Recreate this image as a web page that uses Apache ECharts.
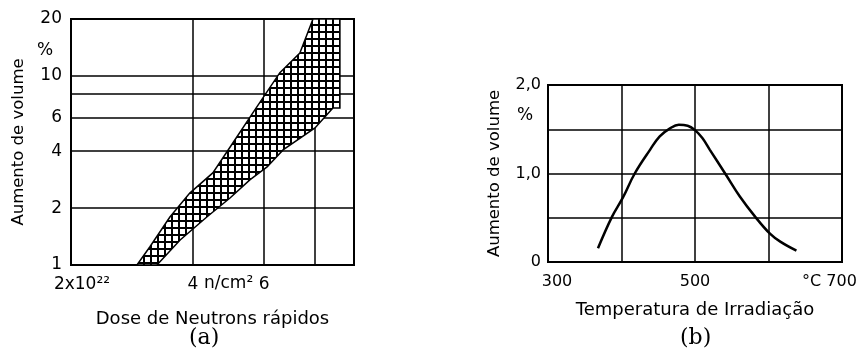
<!DOCTYPE html>
<html><head><meta charset="utf-8">
<script src="https://cdn.jsdelivr.net/npm/echarts@6/dist/echarts.min.js"></script>
<style>html,body{margin:0;padding:0;background:#fff}#c{width:864px;height:356px}</style>
</head><body><div id="c"></div>
<script>
// ---- Chart (a): volume increase vs fast neutron dose (log-log), hatched band ----
const doseTickValues = [2e22, 4e22, 6e22, 1e23];
const doseTickLabels = ['2x10²²', '4', '6', '1x10²³'];
const doseGridValues = [4e22, 6e22, 8e22];
const volTickValues = [1, 2, 4, 6, 10, 20];
const volTickLabels = ['1', '2', '4', '6', '10', '20'];
const volGridValues = [2, 4, 6, 8, 10];
// band edges (upper-left edge and lower-right edge)
const bandUpperDose = [2.91e22, 3.13e22, 3.51e22, 3.93e22, 4.48e22, 5.02e22, 5.69e22, 6.56e22, 7.35e22, 7.92e22];
const bandUpperVol  = [1, 1.245, 1.795, 2.40, 3.07, 4.42, 6.61, 10.4, 13.2, 20];
const bandLowerDose = [3.26e22, 3.72e22, 4.33e22, 4.94e22, 5.53e22, 6.10e22, 6.68e22, 8.01e22, 8.87e22, 9.23e22, 9.23e22];
const bandLowerVol  = [1, 1.356, 1.795, 2.26, 2.82, 3.30, 4.06, 5.31, 6.77, 6.77, 20];

// ---- Chart (b): volume increase vs irradiation temperature ----
const tempValues = [368, 387, 402, 418, 439, 452, 466, 478, 490, 500, 510, 520, 541, 561, 582, 602, 616, 638];
const volumeValues = [0.155, 0.51, 0.73, 1.0, 1.27, 1.42, 1.51, 1.55, 1.54, 1.49, 1.40, 1.27, 1.0, 0.74, 0.51, 0.32, 0.23, 0.128];
const tempTickLabels = {300: '300', 500: '500', 700: '°C 700'};
const volBTickLabels = {0: '0', 1: '1,0', 2: '2,0'};

const FONT = 'DejaVu Sans';

function makeHatch() {
  const c = document.createElement('canvas');
  c.width = 7; c.height = 7;
  const g = c.getContext('2d');
  g.fillStyle = '#fff'; g.fillRect(0, 0, 7, 7);
  g.fillStyle = '#000';
  g.fillRect(0, 3, 7, 2);
  g.fillRect(3, 0, 2, 7);
  return c;
}
const hatch = makeHatch();

function nearIdx(arr, v) {
  for (let i = 0; i < arr.length; i++) {
    if (Math.abs(arr[i] - v) / arr[i] < 1e-6) return i;
  }
  return -1;
}

const chart = echarts.init(document.getElementById('c'), null, {renderer: 'canvas'});
const axisLine = {show: true, lineStyle: {color: '#000', width: 2}};
const split = {show: true, lineStyle: {color: '#000', width: 1.5}};
const nameStyle = {color: '#000', fontFamily: FONT, fontSize: 18};
const yNameStyle = {color: '#000', fontFamily: FONT, fontSize: 16.5};

chart.setOption({
  animation: false,
  backgroundColor: '#fff',
  grid: [
    {left: 71, right: 510, top: 19, bottom: 91, show: true, borderColor: '#000', borderWidth: 2, backgroundColor: 'transparent'},
    {left: 548, right: 22, top: 85, bottom: 94, show: true, borderColor: '#000', borderWidth: 2, backgroundColor: 'transparent'}
  ],
  xAxis: [
    {
      gridIndex: 0, type: 'log', logBase: 10, min: 2e22, max: 1e23,
      axisLine: axisLine,
      axisTick: {show: false, customValues: doseGridValues},
      splitLine: split,
      axisLabel: {
        customValues: doseTickValues, margin: 11, color: '#000', fontFamily: FONT, fontSize: 17,
        formatter: function (v) {
          const i = nearIdx(doseTickValues, v);
          if (i < 0) return '';
          if (i === 0) return '{l|' + doseTickLabels[i] + '}';
          if (i === doseTickValues.length - 1) return '{r|' + doseTickLabels[i] + '}';
          return doseTickLabels[i];
        },
        rich: {
          l: {fontFamily: FONT, fontSize: 17, color: '#000', padding: [0, 0, 0, 22]},
          r: {fontFamily: FONT, fontSize: 17, color: '#000', padding: [0, 0, 0, 12]}
        }
      },
      name: 'Dose de Neutrons rápidos', nameLocation: 'middle', nameGap: 45, nameTextStyle: nameStyle
    },
    {
      gridIndex: 1, type: 'value', min: 300, max: 700, interval: 100,
      axisLine: axisLine, axisTick: {show: false}, splitLine: split,
      axisLabel: {
        margin: 12, color: '#000', fontFamily: FONT, fontSize: 16,
        formatter: function (v) {
          const s = tempTickLabels[Math.round(v)];
          if (!s) return '';
          if (v === 300) return '{l|' + s + '}';
          if (v === 700) return '{r|' + s + '}';
          return s;
        },
        rich: {
          l: {fontFamily: FONT, fontSize: 16, color: '#000', padding: [0, 0, 0, 18]},
          r: {fontFamily: FONT, fontSize: 16, color: '#000', padding: [0, 25, 0, 0]}
        }
      },
      name: 'Temperatura de Irradiação', nameLocation: 'middle', nameGap: 39, nameTextStyle: nameStyle
    }
  ],
  yAxis: [
    {
      gridIndex: 0, type: 'log', logBase: 10, min: 1, max: 20,
      axisLine: axisLine,
      axisTick: {show: false, customValues: volGridValues},
      splitLine: split,
      axisLabel: {
        customValues: volTickValues, margin: 9, color: '#000', fontFamily: FONT, fontSize: 17,
        formatter: function (v) {
          const i = nearIdx(volTickValues, v);
          return i < 0 ? '' : volTickLabels[i];
        }
      },
      name: 'Aumento de volume', nameLocation: 'middle', nameGap: 44, nameTextStyle: yNameStyle
    },
    {
      gridIndex: 1, type: 'value', min: 0, max: 2, interval: 0.5,
      axisLine: axisLine, axisTick: {show: false}, splitLine: split,
      axisLabel: {
        margin: 7, color: '#000', fontFamily: FONT, fontSize: 16,
        formatter: function (v) { const s = volBTickLabels[v]; return s === undefined ? '' : s; }
      },
      name: 'Aumento de volume', nameLocation: 'middle', nameGap: 45, nameTextStyle: yNameStyle
    }
  ],
  series: [
    {
      type: 'custom', xAxisIndex: 0, yAxisIndex: 0, clip: true,
      data: [[bandUpperDose[0], bandUpperVol[0]]],
      renderItem: function (params, api) {
        const pts = [];
        for (let i = 0; i < bandUpperDose.length; i++) pts.push(api.coord([bandUpperDose[i], bandUpperVol[i]]));
        for (let i = bandLowerDose.length - 1; i >= 0; i--) pts.push(api.coord([bandLowerDose[i], bandLowerVol[i]]));
        return {
          type: 'polygon', shape: {points: pts},
          style: {fill: {image: hatch, repeat: 'repeat'}, stroke: '#000', lineWidth: 1.5}
        };
      }
    },
    {
      type: 'line', xAxisIndex: 1, yAxisIndex: 1, smooth: 0.4, symbol: 'none',
      lineStyle: {color: '#000', width: 2.5},
      data: tempValues.map((t, i) => [t, volumeValues[i]])
    }
  ],
  graphic: [
    {type: 'text', left: 37, top: 42, style: {text: '%', fontFamily: FONT, fontSize: 17, fill: '#000'}},
    {type: 'text', left: 517, top: 107, style: {text: '%', fontFamily: FONT, fontSize: 17, fill: '#000'}},
    {type: 'text', left: 204, top: 275, style: {text: 'n/cm²', fontFamily: FONT, fontSize: 17, fill: '#000'}},
    {type: 'text', left: 189, top: 327, style: {text: '(a)', fontFamily: 'DejaVu Serif', fontSize: 22, fill: '#000'}},
    {type: 'text', left: 680, top: 327, style: {text: '(b)', fontFamily: 'DejaVu Serif', fontSize: 22, fill: '#000'}}
  ]
});
</script>
</body></html>
